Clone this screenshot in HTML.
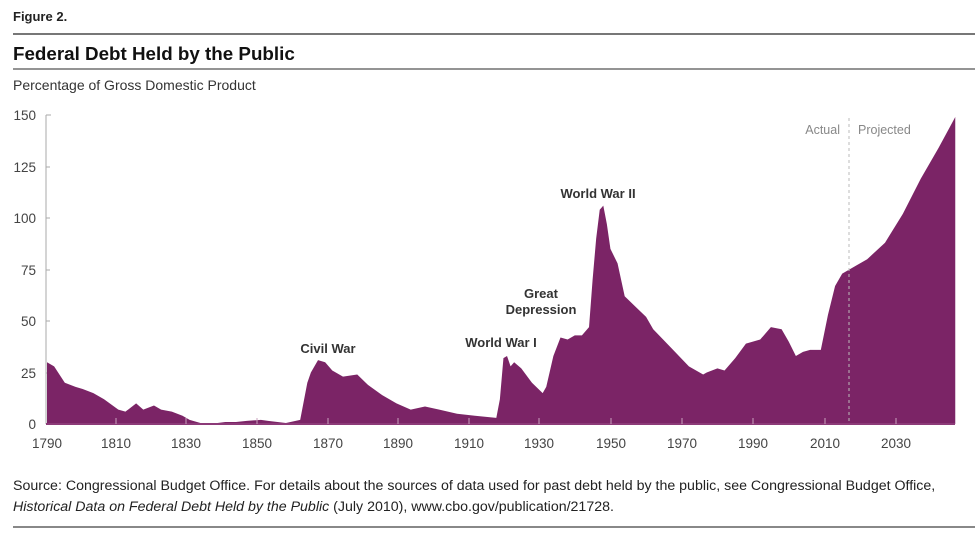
<!DOCTYPE html>
<html><head><meta charset="utf-8"><style>
body{margin:0;background:#fff;width:980px;height:530px;overflow:hidden;font-family:"Liberation Sans",sans-serif;}
</style></head><body>
<svg width="980" height="530" viewBox="0 0 980 530" xmlns="http://www.w3.org/2000/svg" font-family="Liberation Sans, sans-serif">
<text x="13" y="21" font-size="13" font-weight="bold" fill="#222">Figure 2.</text>
<line x1="13" y1="34" x2="975" y2="34" stroke="#777" stroke-width="2"/>
<text x="13" y="60" font-size="18.8" font-weight="bold" fill="#111">Federal Debt Held by the Public</text>
<line x1="13" y1="69" x2="975" y2="69" stroke="#555" stroke-width="1.2"/>
<text x="13" y="90" font-size="14" fill="#333">Percentage of Gross Domestic Product</text>
<g font-size="13.5" fill="#444" text-anchor="end">
<text x="36" y="120">150</text><text x="36" y="172">125</text><text x="36" y="223">100</text>
<text x="36" y="275">75</text><text x="36" y="326">50</text><text x="36" y="378">25</text><text x="36" y="429">0</text>
</g>
<line x1="46" y1="115" x2="46" y2="424" stroke="#aaa"/>
<g stroke="#aaa"><line x1="46" y1="115" x2="51" y2="115"/><line x1="46" y1="167" x2="50" y2="167"/><line x1="46" y1="218" x2="50" y2="218"/><line x1="46" y1="270" x2="50" y2="270"/><line x1="46" y1="321" x2="50" y2="321"/><line x1="46" y1="373" x2="50" y2="373"/></g>
<g transform="translate(47 424) scale(3.566 -2.06) translate(-1790 0)">
<polygon fill="#7b2466" points="1790,0 1790,30 1792,28 1795,20 1798,18 1800,17 1803,15 1806,12 1810,7 1812,6 1815,10 1817,7 1820,9 1822,7 1825,6 1828,4 1830,2 1834,0 1837,0.3 1840,1 1843,1 1846,1.5 1850,2 1852,1.5 1857,0.5 1861,2 1863,20 1864,25 1866,31 1868,30 1870,26 1873,23 1877,24 1880,19 1884,14 1888,10 1892,7 1896,8.5 1900,7 1905,5 1910,4 1916,3 1917,12 1918,32 1919,33 1920,28 1921,30 1923,27 1926,20 1929,15 1930,18 1932,33 1934,42 1936,41 1938,43 1940,43 1942,47 1943,70 1944,90 1945,104 1946,106 1947,97 1948,85 1950,78 1952,62 1955,57 1958,52 1960,46 1965,37 1970,28 1974,24 1975,25 1978,27 1980,26 1983,32 1986,39 1990,41 1993,47 1996,46 1998,40 2000,33 2002,35 2004,36 2007,36 2009,53 2011,67 2013,73 2017,77 2020,80 2025,88 2030,102 2035,119 2040,134 2044.7,149 2044.7,0"/>
</g>
<line x1="46" y1="424" x2="955" y2="424" stroke="#8c3a78" stroke-width="2"/>
<g stroke="#c9a2bd" stroke-width="1">
<line x1="116" y1="418" x2="116" y2="424"/><line x1="186" y1="418" x2="186" y2="424"/><line x1="257" y1="418" x2="257" y2="424"/><line x1="328" y1="418" x2="328" y2="424"/><line x1="398" y1="418" x2="398" y2="424"/><line x1="469" y1="418" x2="469" y2="424"/><line x1="539" y1="418" x2="539" y2="424"/><line x1="611" y1="418" x2="611" y2="424"/><line x1="682" y1="418" x2="682" y2="424"/><line x1="753" y1="418" x2="753" y2="424"/><line x1="825" y1="418" x2="825" y2="424"/><line x1="896" y1="418" x2="896" y2="424"/>
</g>
<line x1="849" y1="118" x2="849" y2="424" stroke="#bbb" stroke-dasharray="3,3"/>
<g font-size="13.5" fill="#444" text-anchor="middle">
<text x="47" y="448">1790</text><text x="116" y="448">1810</text><text x="186" y="448">1830</text><text x="257" y="448">1850</text>
<text x="328" y="448">1870</text><text x="398" y="448">1890</text><text x="469" y="448">1910</text><text x="539" y="448">1930</text>
<text x="611" y="448">1950</text><text x="682" y="448">1970</text><text x="753" y="448">1990</text><text x="825" y="448">2010</text><text x="896" y="448">2030</text>
</g>
<g font-size="13" font-weight="bold" fill="#333" text-anchor="middle">
<text x="328" y="353">Civil War</text>
<text x="501" y="347">World War I</text>
<text x="541" y="298">Great</text>
<text x="541" y="314">Depression</text>
<text x="598" y="198">World War II</text>
</g>
<text x="840" y="134" font-size="12.5" fill="#888" text-anchor="end">Actual</text>
<text x="858" y="134" font-size="12.5" fill="#888">Projected</text>
<text x="13" y="490" font-size="14.2" fill="#222">Source: Congressional Budget Office. For details about the sources of data used for past debt held by the public, see Congressional Budget Office,</text>
<text x="13" y="511" font-size="14.2" fill="#222"><tspan font-style="italic">Historical Data on Federal Debt Held by the Public</tspan> (July 2010), www.cbo.gov/publication/21728.</text>
<line x1="13" y1="527" x2="975" y2="527" stroke="#888" stroke-width="2"/>
</svg>
</body></html>
